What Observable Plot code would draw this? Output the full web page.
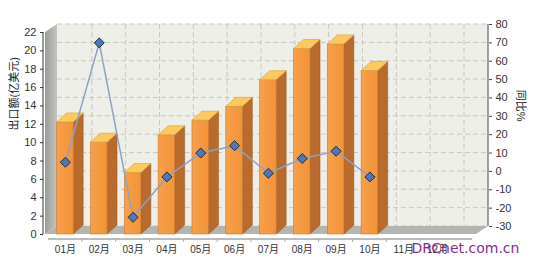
<!DOCTYPE html>
<html><head><meta charset="utf-8">
<script src="https://cdn.jsdelivr.net/npm/d3@7"></script>
<script src="https://cdn.jsdelivr.net/npm/@observablehq/plot@0.6"></script>
<style>body{margin:0;background:#fff}</style>
</head><body><div id="chart"></div>
<script>
// ---- data ----
const months = ["01月","02月","03月","04月","05月","06月","07月","08月","09月","10月","11月","12月"];
const exportValues = [12.2, 10.0, 6.7, 10.8, 12.4, 13.9, 16.8, 20.2, 20.7, 17.8];
const yoyValues = [5, 70, -25, -3, 10, 14, -1, 7, 11, -3];
const leftTicks = [0, 2, 4, 6, 8, 10, 12, 14, 16, 18, 20, 22];
const rightTicks = [-30, -20, -10, 0, 10, 20, 30, 40, 50, 60, 70, 80];
const leftTitle = "出口额(亿美元)";
const rightTitle = "同比%";
const watermark = "DRCnet.com.cn";

const bars = exportValues.map((v, i) => ({month: months[i], value: v}));
const yoy = yoyValues.map((v, i) => ({month: months[i], pct: v}));
const rMin = rightTicks[0], rMax = rightTicks[rightTicks.length - 1], lMax = leftTicks[leftTicks.length - 1];
const pctToLeft = p => (p - rMin) / (rMax - rMin) * lMax;

// ---- style ----
const WALL = {dx: 12, dy: -8};
const BAR = {dx: 10, dy: -9};

function scene(index, scales, values, dims) {
  const x = scales.x, y = scales.y;
  const g = d3.create("svg:g");
  const step = x(months[1]) - x(months[0]);
  const x0 = dims.marginLeft, x1 = dims.width - dims.marginRight;
  const yTop = y(lMax), yBot = y(0);
  const defs = g.append("defs");
  const lw = defs.append("linearGradient").attr("id", "lw").attr("x1", 0).attr("x2", 1);
  lw.append("stop").attr("offset", 0).attr("stop-color", "#9a9d97");
  lw.append("stop").attr("offset", 1).attr("stop-color", "#c4c7c1");
  const fg = defs.append("linearGradient").attr("id", "fg").attr("x1", 0).attr("x2", 1);
  fg.append("stop").attr("offset", 0).attr("stop-color", "#f8a04a");
  fg.append("stop").attr("offset", 1).attr("stop-color", "#f29338");
  // back wall
  g.append("rect").attr("x", x0 + WALL.dx).attr("y", yTop + WALL.dy)
    .attr("width", x1 - x0).attr("height", yBot - yTop).attr("fill", "#efefe9");
  // horizontal grid
  for (const t of leftTicks) {
    g.append("line").attr("x1", x0 + WALL.dx).attr("x2", x1 + WALL.dx)
      .attr("y1", y(t) + WALL.dy).attr("y2", y(t) + WALL.dy)
      .attr("stroke", "#c8c8c0").attr("stroke-dasharray", "5,3");
  }
  // vertical grid
  for (let i = 1; i <= months.length; i++) {
    const bx = (i < months.length ? x(months[i]) : x(months[i - 1]) + step) + BAR.dx;
    g.append("line").attr("x1", bx).attr("x2", bx)
      .attr("y1", yTop + WALL.dy).attr("y2", yBot + WALL.dy)
      .attr("stroke", "#c8c8c0").attr("stroke-dasharray", "5,3");
  }
  // left wall
  g.append("path").attr("d", `M${x0},${yTop}L${x0 + WALL.dx},${yTop + WALL.dy}L${x0 + WALL.dx},${yBot + WALL.dy}L${x0},${yBot}Z`)
    .attr("fill", "url(#lw)");
  // floor
  g.append("path").attr("d", `M${x0},${yBot}L${x0 + WALL.dx},${yBot + WALL.dy}L${x1 + WALL.dx},${yBot + WALL.dy}L${x1},${yBot}Z`)
    .attr("fill", "#b3b6b0");
  // bars
  const w = step * 0.49;
  for (const d of bars) {
    const xf = x(d.month) + (step - w) / 2;
    const yt = y(d.value);
    g.append("path").attr("d", `M${xf + w},${yt}L${xf + w + BAR.dx},${yt + BAR.dy}L${xf + w + BAR.dx},${yBot + BAR.dy}L${xf + w},${yBot}Z`)
      .attr("fill", "#b86b2c").attr("stroke", "#9a5620").attr("stroke-width", 0.5);
    g.append("rect").attr("x", xf).attr("y", yt).attr("width", w).attr("height", yBot - yt)
      .attr("fill", "url(#fg)").attr("stroke", "#c9782e").attr("stroke-width", 0.6);
    g.append("path").attr("d", `M${xf},${yt}L${xf + BAR.dx},${yt + BAR.dy}L${xf + w + BAR.dx},${yt + BAR.dy}L${xf + w},${yt}Z`)
      .attr("fill", "#fcc95c").attr("stroke", "#d99d35").attr("stroke-width", 0.6);
  }
  // axis lines
  g.append("line").attr("x1", x0 - 2).attr("x2", x0 - 2).attr("y1", yTop).attr("y2", yBot).attr("stroke", "#333");
  g.append("line").attr("x1", x1 + WALL.dx).attr("x2", x1 + WALL.dx).attr("y1", yTop + WALL.dy).attr("y2", yBot + WALL.dy).attr("stroke", "#444");
  g.append("line").attr("x1", x0 + 3).attr("x2", x1 - 4).attr("y1", yBot + 5).attr("y2", yBot + 5).attr("stroke", "#777");
  for (let i = 1; i < months.length; i++) {
    const bx = x(months[i]);
    g.append("line").attr("x1", bx).attr("x2", bx).attr("y1", yBot + 5).attr("y2", yBot + 8).attr("stroke", "#aaa");
  }
  return g.node();
}

const font = "'Liberation Sans', 'Noto Sans CJK SC', sans-serif";
const plot = Plot.plot({
  width: 537,
  height: 262,
  marginTop: 32,
  marginBottom: 28,
  marginLeft: 45,
  marginRight: 61,
  style: {fontFamily: font, fontSize: "10px", color: "#333", background: "#fff"},
  x: {type: "band", domain: months, range: [48, 454], padding: 0, round: false},
  y: {domain: [0, lMax]},
  marks: [
    scene,
    Plot.line(yoy, {x: "month", y: d => pctToLeft(d.pct), dy: WALL.dy, stroke: "#8ca2c4", strokeWidth: 1.5}),
    Plot.dot(yoy, {x: "month", y: d => pctToLeft(d.pct), dy: WALL.dy, symbol: "diamond2", r: 4.5, fill: "#4d79b6", stroke: "#1c2a44", strokeWidth: 1}),
    Plot.axisY(leftTicks, {anchor: "left", tickSize: 3, tickPadding: 4, dx: -2, label: null, stroke: "#333", fill: "#333", fontSize: 11}),
    Plot.axisY(leftTicks, {anchor: "right", tickSize: 3, tickPadding: 4, dx: WALL.dx, dy: WALL.dy, label: null,
      tickFormat: t => String(rightTicks[leftTicks.indexOf(t)]), stroke: "#444", fill: "#333", fontSize: 11}),
    Plot.axisX({tickSize: 0, tickPadding: 11, label: null, fill: "#333", fontSize: 10}),
    Plot.text([leftTitle], {frameAnchor: "left", dx: -31, dy: -3, rotate: -90, fontSize: 11, fill: "#222"}),
    Plot.text([rightTitle], {frameAnchor: "right", dx: 44, dy: -12, rotate: 90, fontSize: 11, fill: "#222"}),
    Plot.text([watermark], {frameAnchor: "bottom-right", dx: -65, dy: 18, textAnchor: "start", fill: "#8b2c8c", fontSize: 14, fontFamily: "'DejaVu Sans', sans-serif"})
  ]
});
document.getElementById("chart").append(plot);
</script>
</body></html>
